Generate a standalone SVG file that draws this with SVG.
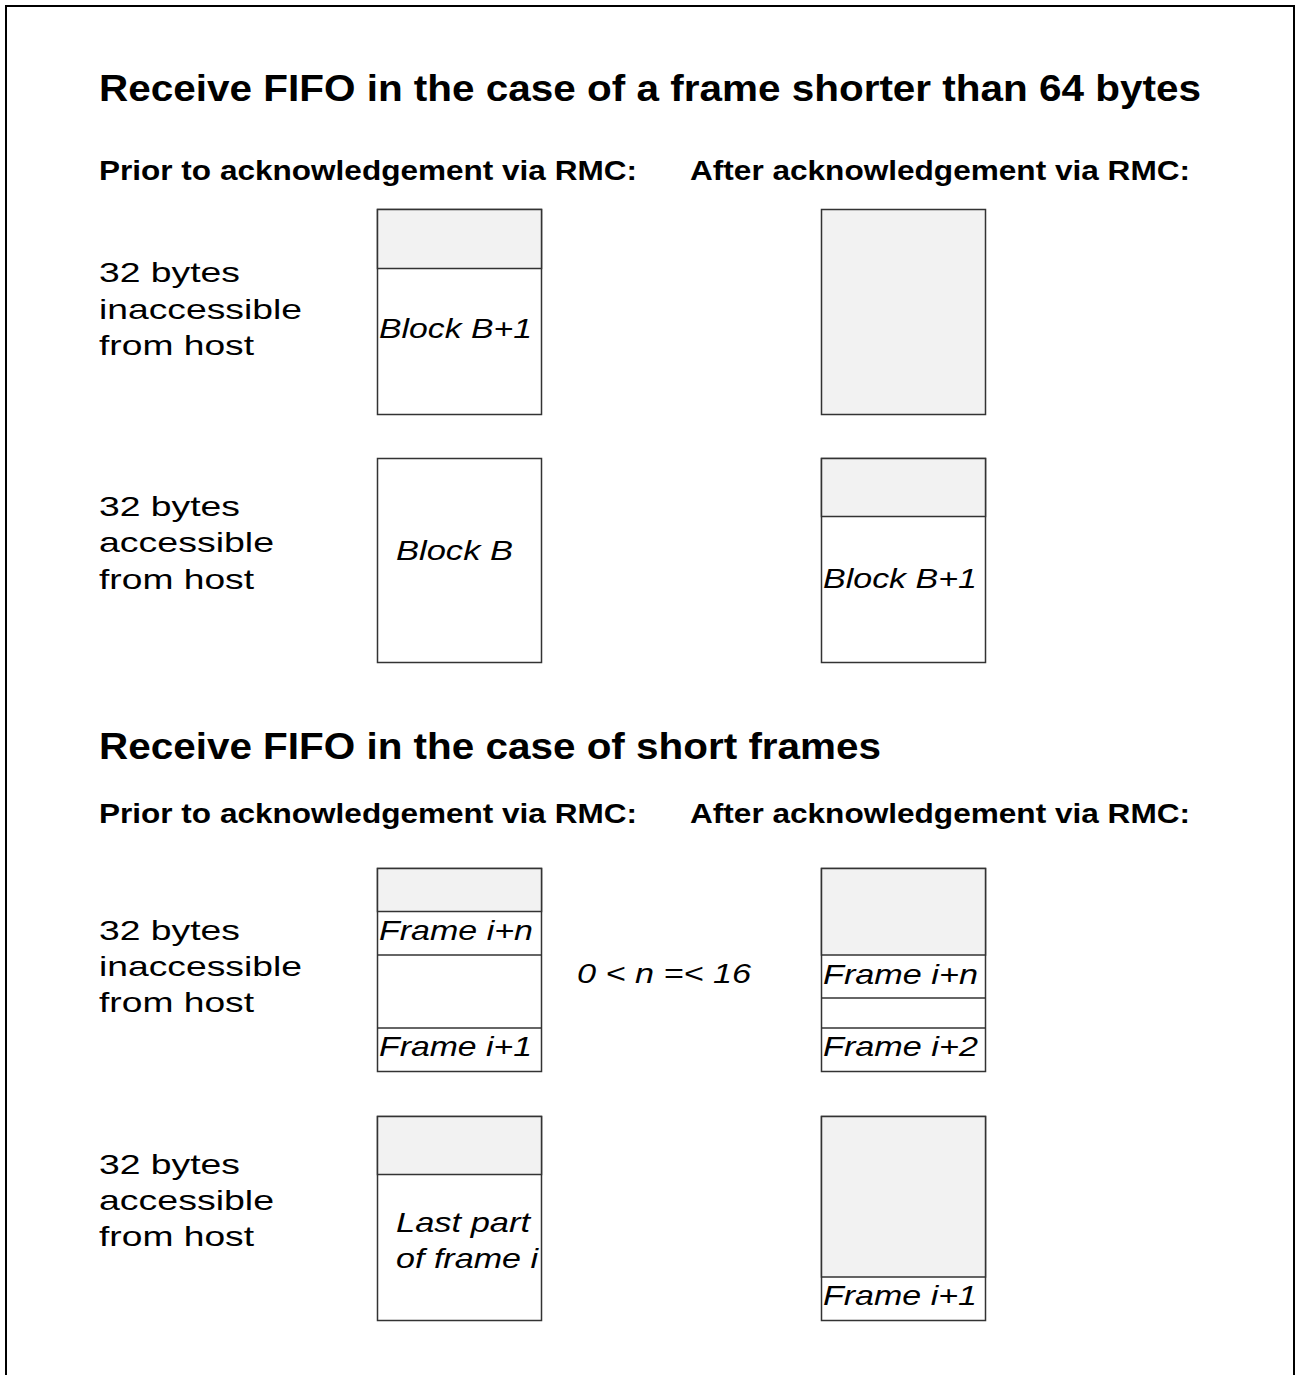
<svg xmlns="http://www.w3.org/2000/svg" width="1296" height="1375" viewBox="0 0 1296 1375">
<style>
.t{font-family:"Liberation Sans",Arial,sans-serif;font-weight:bold;font-size:37px;fill:#000}
.s{font-family:"Liberation Sans",Arial,sans-serif;font-weight:bold;font-size:28px;fill:#000}
.l{font-family:"Liberation Sans",Arial,sans-serif;font-size:28px;fill:#000}
.i{font-family:"Liberation Sans",Arial,sans-serif;font-style:italic;font-size:28px;fill:#000}
.box{fill:#fff;stroke:#333;stroke-width:1.5}
.g{fill:#f2f2f2;stroke:#333;stroke-width:1.5}
.d{stroke:#333;stroke-width:1.5}
</style>
<rect x="0" y="0" width="1296" height="1375" fill="#fff"/>
<rect x="6" y="6" width="1288" height="1420" fill="none" stroke="#000" stroke-width="2"/>

<g id="headings">
<text class="t" x="99" y="101" textLength="1102" lengthAdjust="spacingAndGlyphs">Receive FIFO in the case of a frame shorter than 64 bytes</text>
<text class="s" x="99" y="180" textLength="538" lengthAdjust="spacingAndGlyphs">Prior to acknowledgement via RMC:</text>
<text class="s" x="690" y="180" textLength="500" lengthAdjust="spacingAndGlyphs">After acknowledgement via RMC:</text>
<text class="t" x="99" y="759" textLength="782" lengthAdjust="spacingAndGlyphs">Receive FIFO in the case of short frames</text>
<text class="s" x="99" y="823" textLength="538" lengthAdjust="spacingAndGlyphs">Prior to acknowledgement via RMC:</text>
<text class="s" x="690" y="823" textLength="500" lengthAdjust="spacingAndGlyphs">After acknowledgement via RMC:</text>
</g>

<g id="labels">
<text class="l" x="99" y="282" textLength="141" lengthAdjust="spacingAndGlyphs">32 bytes</text>
<text class="l" x="99" y="319" textLength="203" lengthAdjust="spacingAndGlyphs">inaccessible</text>
<text class="l" x="99" y="355" textLength="155" lengthAdjust="spacingAndGlyphs">from host</text>
<text class="l" x="99" y="516" textLength="141" lengthAdjust="spacingAndGlyphs">32 bytes</text>
<text class="l" x="99" y="552" textLength="175" lengthAdjust="spacingAndGlyphs">accessible</text>
<text class="l" x="99" y="589" textLength="155" lengthAdjust="spacingAndGlyphs">from host</text>
<text class="l" x="99" y="940" textLength="141" lengthAdjust="spacingAndGlyphs">32 bytes</text>
<text class="l" x="99" y="976" textLength="203" lengthAdjust="spacingAndGlyphs">inaccessible</text>
<text class="l" x="99" y="1012" textLength="155" lengthAdjust="spacingAndGlyphs">from host</text>
<text class="l" x="99" y="1174" textLength="141" lengthAdjust="spacingAndGlyphs">32 bytes</text>
<text class="l" x="99" y="1210" textLength="175" lengthAdjust="spacingAndGlyphs">accessible</text>
<text class="l" x="99" y="1246" textLength="155" lengthAdjust="spacingAndGlyphs">from host</text>
<text class="i" x="577" y="983" textLength="174" lengthAdjust="spacingAndGlyphs">0 &lt; n =&lt; 16</text>
</g>

<g id="fifo1-prior-upper">
<rect class="box" x="377.5" y="209.5" width="164" height="205"/>
<rect class="g" x="377.5" y="209.5" width="164" height="59"/>
<text class="i" x="379" y="338" textLength="153" lengthAdjust="spacingAndGlyphs">Block B+1</text>
</g>
<g id="fifo1-after-upper">
<rect class="g" x="821.5" y="209.5" width="164" height="205"/>
</g>
<g id="fifo1-prior-lower">
<rect class="box" x="377.5" y="458.5" width="164" height="204"/>
<text class="i" x="396" y="560" textLength="117" lengthAdjust="spacingAndGlyphs">Block B</text>
</g>
<g id="fifo1-after-lower">
<rect class="box" x="821.5" y="458.5" width="164" height="204"/>
<rect class="g" x="821.5" y="458.5" width="164" height="58"/>
<text class="i" x="823" y="588" textLength="154" lengthAdjust="spacingAndGlyphs">Block B+1</text>
</g>

<g id="fifo2-prior-upper">
<rect class="box" x="377.5" y="868.5" width="164" height="203"/>
<rect class="g" x="377.5" y="868.5" width="164" height="43"/>
<line class="d" x1="377.5" y1="955" x2="541.5" y2="955"/>
<line class="d" x1="377.5" y1="1028" x2="541.5" y2="1028"/>
<text class="i" x="379" y="940" textLength="154" lengthAdjust="spacingAndGlyphs">Frame i+n</text>
<text class="i" x="379" y="1056" textLength="153" lengthAdjust="spacingAndGlyphs">Frame i+1</text>
</g>
<g id="fifo2-after-upper">
<rect class="box" x="821.5" y="868.5" width="164" height="203"/>
<rect class="g" x="821.5" y="868.5" width="164" height="86.5"/>
<line class="d" x1="821.5" y1="998" x2="985.5" y2="998"/>
<line class="d" x1="821.5" y1="1028" x2="985.5" y2="1028"/>
<text class="i" x="823" y="984" textLength="155" lengthAdjust="spacingAndGlyphs">Frame i+n</text>
<text class="i" x="823" y="1056" textLength="155" lengthAdjust="spacingAndGlyphs">Frame i+2</text>
</g>
<g id="fifo2-prior-lower">
<rect class="box" x="377.5" y="1116.5" width="164" height="204"/>
<rect class="g" x="377.5" y="1116.5" width="164" height="58"/>
<text class="i" x="396" y="1232" textLength="134" lengthAdjust="spacingAndGlyphs">Last part</text>
<text class="i" x="396" y="1268" textLength="142" lengthAdjust="spacingAndGlyphs">of frame i</text>
</g>
<g id="fifo2-after-lower">
<rect class="box" x="821.5" y="1116.5" width="164" height="204"/>
<rect class="g" x="821.5" y="1116.5" width="164" height="160.5"/>
<text class="i" x="823" y="1305" textLength="154" lengthAdjust="spacingAndGlyphs">Frame i+1</text>
</g>
<g id="connectors"/>
</svg>
